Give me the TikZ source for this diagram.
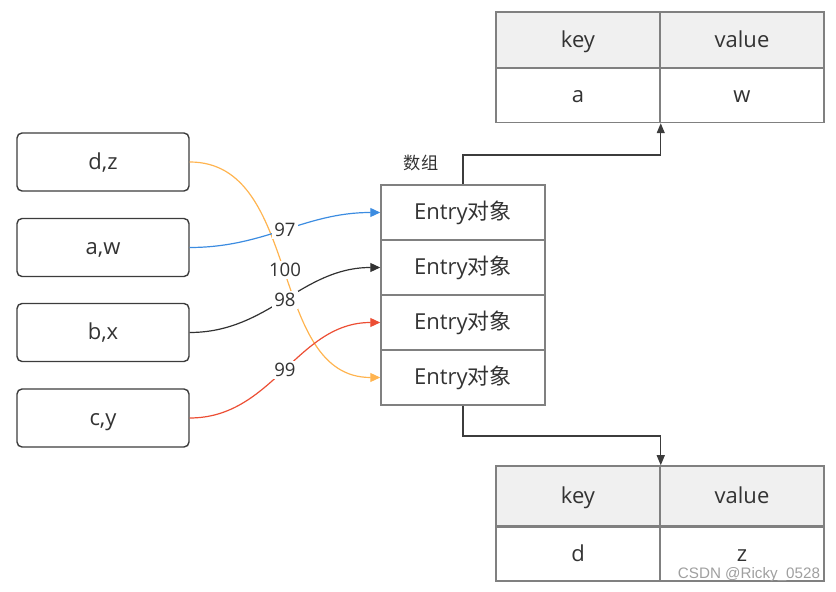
\documentclass[tikz,border=0pt]{standalone}
\usepackage{fontspec}
\setmainfont{Open Sans}
\newfontfamily\cjk{Noto Sans CJK SC}
\newfontfamily\markfont{Liberation Sans}
\usepackage{tikz}
\usetikzlibrary{arrows.meta, positioning, calc}
\definecolor{boxline}{RGB}{60, 60, 60}
\definecolor{gridline}{RGB}{128, 128, 128}
\definecolor{headfill}{RGB}{240, 240, 240}
\definecolor{textgray}{RGB}{51, 51, 51}
\definecolor{linkorange}{RGB}{255, 180, 80}
\definecolor{linkblue}{RGB}{60, 140, 225}
\definecolor{linkblack}{RGB}{50, 50, 50}
\definecolor{linkred}{RGB}{236, 78, 52}

\begin{document}
\begin{tikzpicture}[
    x=0.5pt, y=-0.5pt,
    pair/.style={rectangle, draw=boxline, line width=0.7pt, rounded corners=2.5pt, minimum width=86pt, minimum height=29pt, text height=9pt, text depth=1.5pt, font=\fontsize{11}{13}\selectfont, text=textgray},
    entry/.style={rectangle, draw=gridline, line width=0.75pt, minimum width=82pt, minimum height=27.5pt, text height=9pt, text depth=1.5pt, font=\fontsize{11}{13}\selectfont, text=textgray},
    cell/.style={rectangle, draw=gridline, line width=0.75pt, minimum width=82pt, minimum height=27.5pt, text height=9pt, text depth=1.5pt, font=\fontsize{11}{13}\selectfont, text=textgray},
    head/.style={cell, fill=headfill, minimum height=28pt},
    hash/.style={font=\fontsize{9.3}{11}\selectfont, text=textgray, fill=white, inner sep=1pt},
    link/.style={line width=0.6pt, -{Triangle[length=5pt, width=4.5pt]}},
    arrow/.style={draw=boxline, line width=0.6pt, -{Triangle[length=5pt, width=4pt]}}
]
    \useasboundingbox (0,0) rectangle (836,592);

    % Key-value pairs
    \node[pair] (dz) at (103, 162) {d,z};
    \node[pair] (aw) at (103, 247.5) {a,w};
    \node[pair] (bx) at (103, 332.5) {b,x};
    \node[pair] (cy) at (103, 418) {c,y};

    % Array of entries
    \node[entry] (e1) at (463, 212.5) {Entry{\cjk 对象}};
    \node[entry] (e2) at (463, 267.5) {Entry{\cjk 对象}};
    \node[entry] (e3) at (463, 322.5) {Entry{\cjk 对象}};
    \node[entry] (e4) at (463, 377.5) {Entry{\cjk 对象}};
    \node[font=\fontsize{8.6}{10}\selectfont\cjk, text=textgray] (arr) at (421, 163) {数组};

    % Top table
    \node[head] (k1) at (578, 40) {key};
    \node[head] (v1) at (742, 40) {value};
    \node[cell] (ka) at (578, 95) {a};
    \node[cell] (vw) at (742, 95) {w};

    % Bottom table
    \node[head, minimum height=30pt] (k2) at (578, 496) {key};
    \node[head, minimum height=30pt] (v2) at (742, 496) {value};
    \node[cell, minimum height=27pt] (kd) at (578, 554) {d};
    \node[cell, minimum height=27pt] (vz) at (742, 554) {z};

    % Hash links
    \draw[link, linkorange] (dz.east) to[out=0, in=180] node[hash] {100} (e4.west);
    \draw[link, linkblue] (aw.east) to[out=0, in=180] node[hash] {97} (e1.west);
    \draw[link, linkblack] (bx.east) to[out=0, in=180] node[hash] {98} (e2.west);
    \draw[link, linkred] (cy.east) to[out=0, in=180] node[hash] {99} (e3.west);

    % Entries to tables
    \draw[arrow] (e1.north) -- (e1.north |- 0,155) -| (ka.south east);
    \draw[arrow] (e4.south) -- (e4.south |- 0,436) -| (k2.north east);

    % Watermark
    \node[font=\fontsize{7.6}{9}\selectfont\markfont, text=gray!75] (mark) at (749, 575) {CSDN @Ricky\_0528};
\end{tikzpicture}
\end{document}
